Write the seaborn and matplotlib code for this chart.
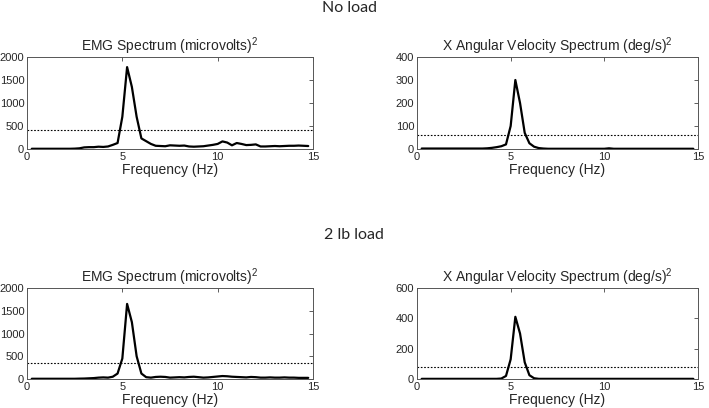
import numpy as np
import pandas as pd
import matplotlib.pyplot as plt
import seaborn as sns

# frequency grid (Hz)
freq = np.arange(1, 60) * 0.25

emg_noload = [5, 5, 5, 5, 5, 5, 5, 5, 5, 8, 15, 35, 40, 40, 50, 45, 55, 90, 130, 700,
              1780, 1350, 700, 230, 170, 110, 70, 65, 60, 80, 75, 70, 75, 55, 50, 55, 60, 75, 90, 110,
              165, 140, 80, 130, 110, 85, 90, 100, 55, 55, 60, 65, 60, 65, 70, 70, 75, 70, 65]
angvel_noload = [2, 2, 2, 2, 2, 2, 2, 2, 2, 2, 2, 2, 2, 2, 3, 5, 8, 12, 20, 100,
                 300, 200, 70, 25, 10, 4, 2, 1, 1, 1, 1, 1, 1, 1, 1, 1, 1, 1, 1, 1,
                 3, 1, 1, 1, 1, 1, 1, 1, 1, 1, 1, 1, 1, 1, 1, 1, 1, 1, 1]
emg_2lb = [5, 5, 5, 5, 5, 5, 5, 5, 5, 5, 8, 10, 15, 20, 30, 35, 30, 50, 120, 450,
           1650, 1250, 500, 120, 40, 30, 45, 50, 45, 30, 35, 40, 35, 45, 50, 40, 30, 35, 45, 55,
           65, 60, 50, 45, 40, 35, 45, 40, 30, 30, 35, 30, 30, 35, 30, 30, 25, 25, 25]
angvel_2lb = [1, 1, 1, 1, 1, 1, 1, 1, 1, 1, 1, 1, 1, 1, 1, 1, 1, 3, 20, 130,
              410, 300, 110, 25, 5, 1, 1, 1, 1, 1, 1, 1, 1, 1, 1, 1, 1, 1, 1, 1,
              1, 1, 1, 1, 1, 1, 1, 1, 1, 1, 1, 1, 1, 1, 1, 1, 1, 1, 1]

thresholds = [420, 60, 360, 80]
ylims = [2000, 400, 2000, 600]
yticks = [[0, 500, 1000, 1500, 2000], [0, 100, 200, 300, 400],
          [0, 500, 1000, 1500, 2000], [0, 200, 400, 600]]
titles = ["EMG Spectrum (microvolts)$^2$", "X Angular Velocity Spectrum (deg/s)$^2$",
          "EMG Spectrum (microvolts)$^2$", "X Angular Velocity Spectrum (deg/s)$^2$"]
sections = ["No load", "2 lb load"]

series = [emg_noload, angvel_noload, emg_2lb, angvel_2lb]

sns.set_style("white")
plt.rcParams['font.family'] = ['Liberation Sans', 'DejaVu Sans']
plt.rcParams['mathtext.fontset'] = 'custom'
plt.rcParams['mathtext.rm'] = 'Liberation Sans'

fig = plt.figure(figsize=(7.09, 4.08), dpi=100)

positions = [
    [27 / 709, 1 - 149 / 408, 286 / 709, 92 / 408],
    [417 / 709, 1 - 149 / 408, 281 / 709, 92 / 408],
    [27 / 709, 1 - 379 / 408, 286 / 709, 91 / 408],
    [417 / 709, 1 - 379 / 408, 281 / 709, 91 / 408],
]

for i in range(4):
    ax = fig.add_axes(positions[i])
    df = pd.DataFrame({"freq": freq, "power": series[i]})
    sns.lineplot(data=df, x="freq", y="power", ax=ax, color="black", linewidth=1.6)
    ax.axhline(thresholds[i], color="black", linestyle=(0, (1.5, 1.5)), linewidth=0.8)
    ax.set_xlim(0, 15)
    ax.set_ylim(0, ylims[i])
    ax.set_xticks([0, 5, 10, 15])
    ax.set_yticks(yticks[i])
    ax.set_title(titles[i], fontsize=10, pad=4)
    ax.set_xlabel("Frequency (Hz)", fontsize=10, labelpad=1)
    ax.set_ylabel("")
    ax.tick_params(direction="in", top=True, right=True, length=3, width=0.6,
                   labelsize=8, pad=2, color="#444444")
    for s in ax.spines.values():
        s.set_color("#555555")
        s.set_linewidth(0.7)

fig.text(349.5 / 709, 1 - 8 / 408, sections[0], ha="center", va="center",
         fontsize=11.5, family=["Lato", "DejaVu Sans"])
fig.text(354 / 709, 1 - 235 / 408, sections[1], ha="center", va="center",
         fontsize=11.5, family=["Lato", "DejaVu Sans"])

fig.savefig("out.png", dpi=100)
